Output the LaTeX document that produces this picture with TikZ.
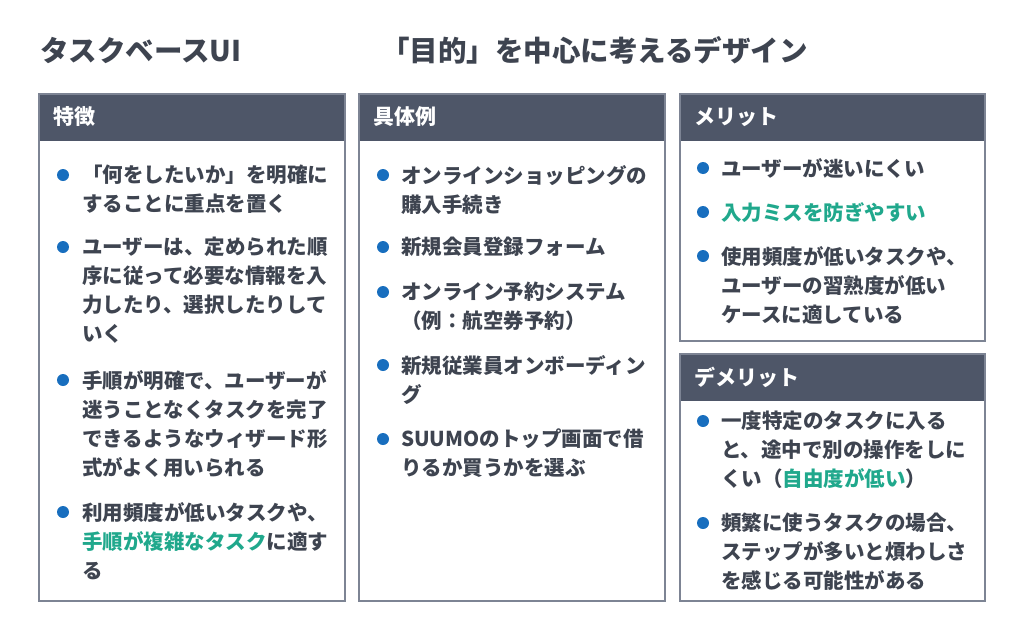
\documentclass[tikz,border=0pt]{standalone}
\usepackage{fontspec}
\setmainfont{Noto Sans CJK JP}
\usepackage{tikz}
\definecolor{myhead}{RGB}{78, 86, 104}
\definecolor{mytext}{RGB}{62, 68, 80}
\definecolor{myblue}{RGB}{24, 110, 190}
\definecolor{mygreen}{RGB}{32, 168, 140}
\definecolor{myframe}{RGB}{125, 132, 148}
\tikzset{
  titletxt/.style={anchor=west, inner sep=0, text=mytext, font=\fontsize{28.5}{32}\selectfont\bfseries},
  headtxt/.style={anchor=west, inner sep=0, text=white, font=\fontsize{21}{24}\selectfont\bfseries},
  itemtxt/.style={anchor=north west, align=left, inner sep=0, text=mytext, font=\fontsize{20.5}{29}\selectfont\bfseries},
  panel/.style={draw=myframe, line width=1.3pt}
}
\begin{document}
\begin{tikzpicture}[x=1pt, y=-1pt]
\useasboundingbox (0, 0) rectangle (1024, 640);

% titles
\node[titletxt] (ttlA) at (40, 50) {タスクベースUI};
\node[titletxt] (ttlB) at (381, 50) {「目的」を中心に考えるデザイン};

% panels
\fill[myhead] (39, 94) rectangle (345, 141);
\draw[panel] (39, 94) rectangle (345, 601);
\fill[myhead] (359, 94) rectangle (665, 141);
\draw[panel] (359, 94) rectangle (665, 601);
\fill[myhead] (680, 94) rectangle (985, 141);
\draw[panel] (680, 94) rectangle (985, 341);
\fill[myhead] (680, 354) rectangle (985, 401);
\draw[panel] (680, 354) rectangle (985, 601);

\node[headtxt] (hdA) at (53, 117) {特徴};
\node[headtxt] (hdB) at (373, 117) {具体例};
\node[headtxt] (hdC) at (694, 117) {メリット};
\node[headtxt] (hdD) at (694, 377) {デメリット};

% features
\fill[myblue] (63, 175) circle (6);
\node[itemtxt] (featA) at (82, 165) {「何をしたいか」を明確に\\することに重点を置く};
\fill[myblue] (63, 247) circle (6);
\node[itemtxt] (featB) at (82, 237) {ユーザーは、定められた順\\序に従って必要な情報を入\\力したり、選択したりして\\いく};
\fill[myblue] (63, 380) circle (6);
\node[itemtxt] (featC) at (82, 370) {手順が明確で、ユーザーが\\迷うことなくタスクを完了\\できるようなウィザード形\\式がよく用いられる};
\fill[myblue] (63, 512) circle (6);
\node[itemtxt] (featD) at (82, 502) {利用頻度が低いタスクや、\\{\color{mygreen}手順が複雑なタスク}に適す\\る};

% examples
\fill[myblue] (383, 175) circle (6);
\node[itemtxt] (exA) at (401, 165) {オンラインショッピングの\\購入手続き};
\fill[myblue] (383, 247) circle (6);
\node[itemtxt] (exB) at (401, 237) {新規会員登録フォーム};
\fill[myblue] (383, 292) circle (6);
\node[itemtxt] (exC) at (401, 282) {オンライン予約システム\\（例：航空券予約）};
\fill[myblue] (383, 365) circle (6);
\node[itemtxt] (exD) at (401, 355) {新規従業員オンボーディン\\グ};
\fill[myblue] (383, 439) circle (6);
\node[itemtxt] (exE) at (401, 429) {SUUMOのトップ画面で借\\りるか買うかを選ぶ};

% merits
\fill[myblue] (703, 168) circle (6);
\node[itemtxt] (mrA) at (721, 158) {ユーザーが迷いにくい};
\fill[myblue] (703, 212) circle (6);
\node[itemtxt, text=mygreen] (mrB) at (721, 202) {入力ミスを防ぎやすい};
\fill[myblue] (703, 256) circle (6);
\node[itemtxt] (mrC) at (721, 246) {使用頻度が低いタスクや、\\ユーザーの習熟度が低い\\ケースに適している};

% demerits
\fill[myblue] (703, 421) circle (6);
\node[itemtxt] (dmA) at (721, 411) {一度特定のタスクに入る\\と、途中で別の操作をしに\\くい（{\color{mygreen}自由度が低い}）};
\fill[myblue] (703, 523) circle (6);
\node[itemtxt] (dmB) at (721, 513) {頻繁に使うタスクの場合、\\ステップが多いと煩わしさ\\を感じる可能性がある};
\end{tikzpicture}
\end{document}
